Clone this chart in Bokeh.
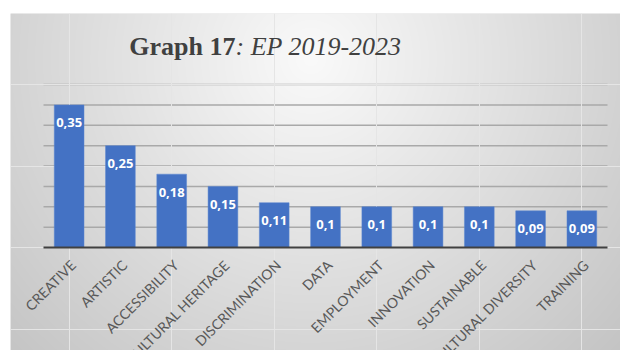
from math import pi
import numpy as np
from bokeh.plotting import figure
from bokeh.models import ColumnDataSource, Range1d, LabelSet, Label
from bokeh.core.properties import value
from bokeh.embed import file_html
from bokeh.resources import INLINE

categories = ["CREATIVE", "ARTISTIC", "ACCESSIBILITY", "CULTURAL HERITAGE", "DISCRIMINATION",
              "DATA", "EMPLOYMENT", "INNOVATION", "SUSTAINABLE", "CULTURAL DIVERSITY", "TRAINING"]
values = [0.35, 0.25, 0.18, 0.15, 0.11, 0.1, 0.1, 0.1, 0.1, 0.09, 0.09]
value_labels = ["0,35", "0,25", "0,18", "0,15", "0,11", "0,1", "0,1", "0,1", "0,1", "0,09", "0,09"]
grid_ticks = [0.05, 0.1, 0.15, 0.2, 0.25, 0.3, 0.35, 0.4]

n = len(categories)
idx = list(range(n))
src = ColumnDataSource(dict(x=idx, cat=categories, val=values, lab=value_labels, base=[0] * n))
gsrc = ColumnDataSource(dict(y=grid_ticks, xa=[-0.5] * len(grid_ticks), xb=[n - 0.5] * len(grid_ticks)))

# layout (pixels)
W, H = 610, 337
pad_l, pad_r, pad_t, pad_b = 33, 13, 71, 103
ymax = max(grid_ticks)
unit_x = (W - pad_l - pad_r) / n
unit_y = (H - pad_t - pad_b) / ymax
x0, x1 = -0.5 - pad_l / unit_x, n - 0.5 + pad_r / unit_x
y0, y1 = -pad_b / unit_y, ymax + pad_t / unit_y

p = figure(x_range=Range1d(x0, x1), y_range=Range1d(y0, y1),
           width=W, height=H, margin=(13, 0, 0, 10),
           x_axis_location=None, y_axis_location=None,
           output_backend="svg", toolbar_location=None,
           min_border=0)
p.outline_line_color = None
p.border_fill_color = "#e2e2e2"
p.background_fill_color = "#e2e2e2"

# soft radial background gradient (slide-style)
gx = np.arange(W)[None, :]
gy = np.arange(H)[:, None]
r = np.sqrt(((gx - 300) / 300.0) ** 2 + ((gy - 45) / 300.0) ** 2)
g = (250 - 38 * np.minimum(r, 1.4)).astype(np.uint32)
img = (255 << 24) | (g << 16) | (g << 8) | g
img = np.flipud(img).astype(np.uint32)
p.image_rgba(image=[img], x=x0, y=y0, dw=x1 - x0, dh=y1 - y0, level="image")

# horizontal gridlines
p.segment(x0="xa", y0="y", x1="xb", y1="y", source=gsrc, line_color="#a9a9a9",
          line_width=1.5, level="underlay")

p.vbar(x="x", top="val", width=0.58, source=src, fill_color="#4472C4",
       line_color="#5a86d0", line_width=0.5)

# category axis line
p.segment(x0=[-0.5], y0=[0], x1=[n - 0.5], y1=[0], line_color="#404040", line_width=2)

cat_labels = LabelSet(x="x", y="base", text="cat", source=src, angle=pi / 4,
                      text_align="right", text_baseline="middle", x_offset=4, y_offset=-15,
                      text_color="#595959", text_font=value("Lato"), text_font_size="14px")
p.add_layout(cat_labels)

labels = LabelSet(x="x", y="val", text="lab", source=src, text_align="center",
                  text_baseline="middle", y_offset=-18, text_color="white",
                  text_font=value("Open Sans"), text_font_style="bold", text_font_size="13px")
p.add_layout(labels)

t1 = Label(x=225, y=304, x_units="screen", y_units="screen", text="Graph 17",
           text_font="Liberation Serif", text_font_style="bold", text_font_size="26px",
           text_color="#404040", text_align="right", text_baseline="alphabetic")
t2 = Label(x=225, y=304, x_units="screen", y_units="screen", text=": EP 2019-2023",
           text_font="Liberation Serif", text_font_style="italic", text_font_size="26px",
           text_color="#404040", text_align="left", text_baseline="alphabetic")
p.add_layout(t1)
p.add_layout(t2)

open("out.html", "w").write(file_html(p, INLINE))
